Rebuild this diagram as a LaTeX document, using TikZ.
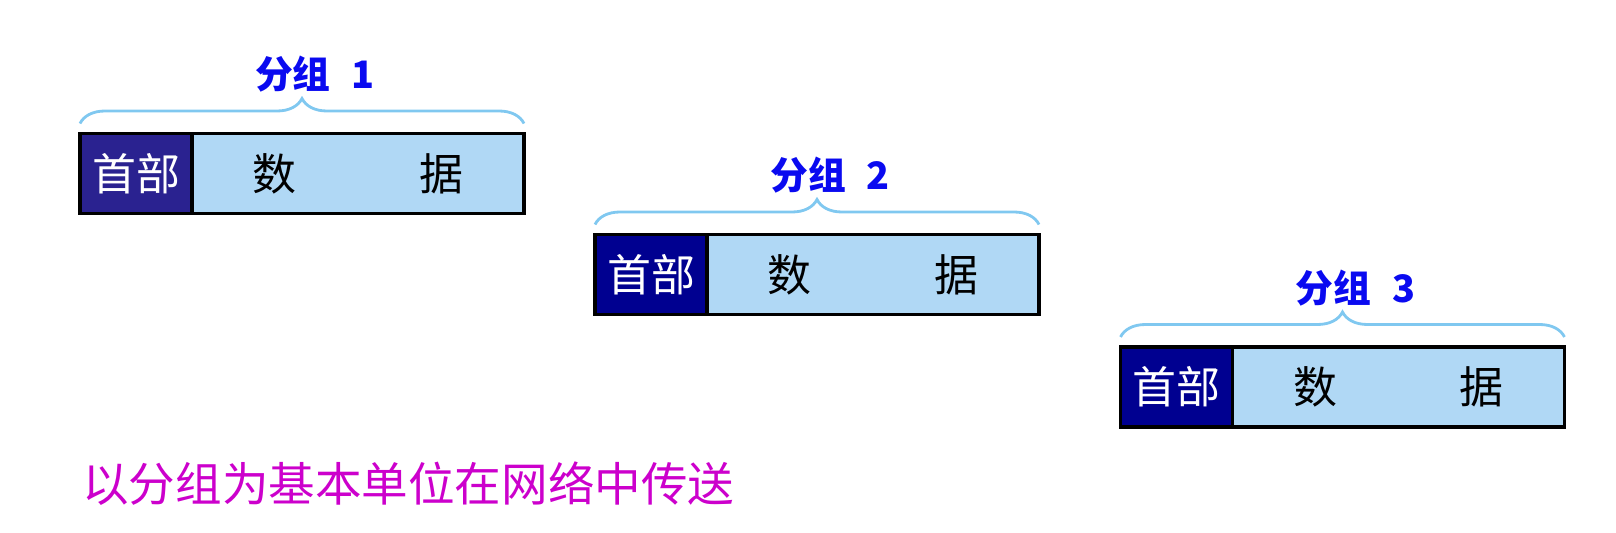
\documentclass[tikz,border=0pt]{standalone}
\usepackage{fontspec}
\usepackage{tikz}
\usetikzlibrary{positioning}
\usetikzlibrary{decorations.pathreplacing}
\newfontfamily\cjk{Noto Sans CJK SC}
\definecolor{hdpurple}{HTML}{2A2290}
\definecolor{hdnavy}{HTML}{000090}
\definecolor{datablue}{HTML}{B0D8F5}
\definecolor{braceblue}{HTML}{80C8F0}
\definecolor{labelblue}{HTML}{0A0AF0}
\definecolor{notemagenta}{HTML}{CC00CC}

\begin{document}
\begin{tikzpicture}[
  font=\cjk,
  hdbox/.style={draw=black, line width=2pt, outer sep=0pt, inner sep=0pt,
    minimum width=2.24cm, minimum height=1.6cm, text=white,
    font=\cjk\fontsize{25}{25}\selectfont},
  databox/.style={draw=black, line width=2pt, outer sep=0pt, inner sep=0pt,
    minimum width=6.64cm, minimum height=1.6cm, fill=datablue,
    font=\cjk\fontsize{25}{25}\selectfont},
  grpbrace/.style={decorate, decoration={brace, amplitude=0.5cm},
    draw=braceblue, line width=1.6pt},
  grplabel/.style={text=labelblue, inner sep=0pt,
    font=\cjk\bfseries\fontsize{21.5}{21.5}\selectfont}
]
\useasboundingbox (0,0) rectangle (32.32,10.64);

% Packets
\foreach \n/\x/\y/\col in {1/2.72/7.17/hdpurple, 2/13.02/5.15/hdnavy, 3/23.53/2.90/hdnavy}{
  \node[hdbox, fill=\col] (hd\n) at (\x,\y) {首部};
  \node[databox, right=0pt of hd\n] (dt\n) {数\hspace{2.46cm}据};
  \draw[grpbrace] ([yshift=0.2cm]hd\n.north west) -- ([yshift=0.2cm]dt\n.north east)
    node[grplabel, midway, xshift=0.26cm, yshift=0.98cm] (lb\n) {分组\hspace{0.42cm}\n};
}

% Note
\node[anchor=west, inner sep=0pt, text=notemagenta,
  font=\cjk\fontsize{26.5}{26.5}\selectfont] (note) at (1.64,0.96)
  {以分组为基本单位在网络中传送};
\end{tikzpicture}
\end{document}
